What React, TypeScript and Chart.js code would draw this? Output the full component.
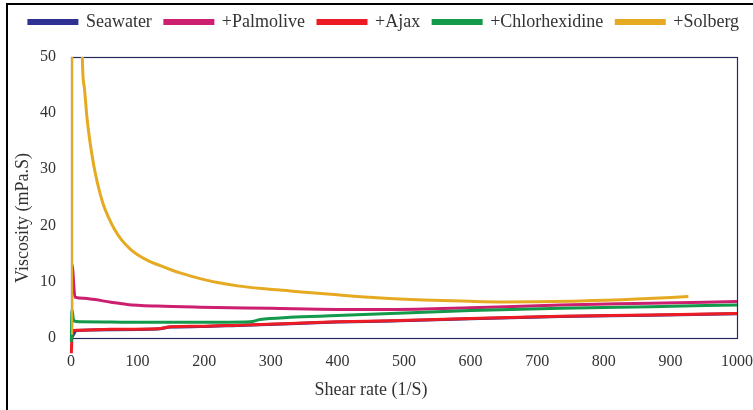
import React, { useEffect, useRef } from "react";
import { Chart, registerables } from "chart.js";

Chart.register(...registerables);

const seriesNames = ["Seawater", "+Palmolive", "+Ajax", "+Chlorhexidine", "+Solberg"];
const seriesColors = ["#2E3192", "#CC1F6F", "#ED1C24", "#12994A", "#E5AA22"];

const xTitle = "Shear rate (1/S)";
const yTitle = "Viscosity (mPa.S)";

const seawaterX = [0.3, 1, 8, 60, 130, 150, 194, 250, 329, 400, 480, 600, 735, 870, 1000];
const seawaterY = [80, 0.1, 1.25, 1.4, 1.5, 1.85, 1.95, 2.15, 2.45, 2.75, 2.95, 3.35, 3.75, 3.95, 4.25];

const palmoliveX = [0.5, 1.5, 6, 20, 33, 60, 84, 130, 194, 300, 400, 480, 600, 735, 870, 1000];
const palmoliveY = [0.5, 13, 7.2, 7.0, 6.8, 6.3, 5.9, 5.6, 5.4, 5.2, 5.0, 5.0, 5.3, 5.8, 6.1, 6.4];

const ajaxX = [0.5, 2, 8, 60, 130, 150, 194, 250, 329, 400, 480, 600, 735, 870, 1000];
const ajaxY = [-2.8, 1.2, 1.3, 1.45, 1.55, 1.9, 2.0, 2.2, 2.5, 2.8, 3.0, 3.4, 3.8, 4.0, 4.3];

const chlorX = [0.5, 1.5, 4, 13, 60, 130, 194, 269, 284, 329, 400, 480, 600, 735, 870, 1000];
const chlorY = [-0.8, 5, 3.0, 2.8, 2.75, 2.7, 2.7, 2.8, 3.2, 3.6, 3.9, 4.3, 4.8, 5.2, 5.5, 5.8];

const solbergX = [1, 2, 17, 20, 24, 28, 34, 40, 48, 56, 65, 75, 89, 100, 115, 134, 150, 165, 180, 194, 220, 250, 290, 329, 400, 465, 530, 600, 650, 700, 765, 850, 927];
const solbergY = [0.5, 250, 50, 44.6, 39.2, 35.3, 30.8, 27.4, 23.9, 21.5, 19.35, 17.55, 15.75, 14.75, 13.75, 12.8, 12.08, 11.48, 10.94, 10.5, 9.8, 9.2, 8.68, 8.29, 7.6, 7.05, 6.7, 6.45, 6.35, 6.38, 6.5, 6.85, 7.3];

const xTicks = [0, 100, 200, 300, 400, 500, 600, 700, 800, 900, 1000];
const yTicks = [0, 10, 20, 30, 40, 50];

const allX = [seawaterX, palmoliveX, ajaxX, chlorX, solbergX];
const allY = [seawaterY, palmoliveY, ajaxY, chlorY, solbergY];

const FONT = "'Liberation Serif', 'Times New Roman', serif";

const plotBorder = {
  id: "plotBorder",
  beforeDatasetsDraw(chart: any) {
    const { ctx, chartArea } = chart;
    ctx.save();
    ctx.strokeStyle = "#252A5C";
    ctx.lineWidth = 1.2;
    ctx.strokeRect(
      Math.round(chartArea.left) + 0.5,
      Math.round(chartArea.top) + 0.5,
      Math.round(chartArea.right - chartArea.left),
      Math.round(chartArea.bottom - chartArea.top)
    );
    ctx.restore();
  },
};

const axisTitles = {
  id: "axisTitles",
  afterDraw(chart: any) {
    const { ctx } = chart;
    ctx.save();
    ctx.fillStyle = "#333333";
    ctx.font = `18px ${FONT}`;
    ctx.textAlign = "center";
    ctx.textBaseline = "middle";
    ctx.fillText(xTitle, 371, 390);
    ctx.translate(23, 218);
    ctx.rotate(-Math.PI / 2);
    ctx.fillText(yTitle, 0, 0);
    ctx.restore();
  },
};

export default function App() {
  const ref = useRef<HTMLCanvasElement | null>(null);

  useEffect(() => {
    if (!ref.current) return;
    const datasets = seriesNames.map((name, i) => ({
      label: name,
      data: allX[i].map((x, j) => ({ x, y: allY[i][j] })),
      borderColor: seriesColors[i],
      backgroundColor: seriesColors[i],
      borderWidth: 3,
      showLine: true,
      pointRadius: 0,
      pointHoverRadius: 0,
      cubicInterpolationMode: "monotone" as const,
      order: seriesNames.length - i,
      clip: i === 2 || i === 3 ? { left: 5, top: 0, right: 5, bottom: 20 } : 0,
    }));

    const chart = new Chart(ref.current, {
      type: "scatter",
      data: { datasets },
      options: {
        responsive: false,
        animation: false,
        layout: { padding: { left: 15, top: 0, right: 0, bottom: 0 } },
        plugins: {
          tooltip: { enabled: false },
          title: {
            display: true,
            text: "",
            position: "top",
            weight: 500,
            padding: 0,
            font: { size: 16, lineHeight: 1 },
          },
          legend: {
            position: "top",
            labels: {
              boxWidth: 48,
              boxHeight: 3,
              padding: 13,
              color: "#333333",
              font: { family: FONT, size: 18 },
              sort: (a: any, b: any) => a.datasetIndex - b.datasetIndex,
            },
          },
        },
        scales: {
          x: {
            type: "linear",
            min: 0,
            max: 1000,
            afterBuildTicks: (scale: any) => {
              scale.ticks = xTicks.map((v) => ({ value: v }));
            },
            afterFit: (scale: any) => {
              scale.height = 72.5;
            },
            grid: { display: false, drawTicks: false },
            border: { display: false },
            ticks: {
              color: "#333333",
              padding: 0,
              maxRotation: 0,
              font: { family: FONT, size: 16, lineHeight: 3.06 },
              callback: (v: any) => String(v),
            },
            title: { display: false },
          },
          y: {
            type: "linear",
            min: 0,
            max: 50,
            afterBuildTicks: (scale: any) => {
              scale.ticks = yTicks.map((v) => ({ value: v }));
            },
            afterFit: (scale: any) => {
              scale.width = 56;
            },
            grid: { display: false, drawTicks: false },
            border: { display: false },
            ticks: {
              color: "#333333",
              padding: 15,
              font: { family: FONT, size: 16 },
              callback: (v: any) => String(v),
            },
            title: { display: false },
          },
        },
      },
      plugins: [plotBorder, axisTitles],
    });
    return () => chart.destroy();
  }, []);

  return (
    <div
      style={{
        position: "fixed",
        left: 0,
        top: 0,
        width: 753,
        height: 410,
        overflow: "hidden",
        background: "#ffffff",
      }}
    >
      <div
        style={{
          position: "absolute",
          left: 6,
          top: 3,
          width: 800,
          height: 500,
          borderLeft: "2px solid #000",
          borderTop: "2px solid #000",
        }}
      />
      <canvas
        ref={ref}
        width={753}
        height={410}
        style={{ position: "absolute", left: 0, top: 0, display: "block" }}
      />
    </div>
  );
}
